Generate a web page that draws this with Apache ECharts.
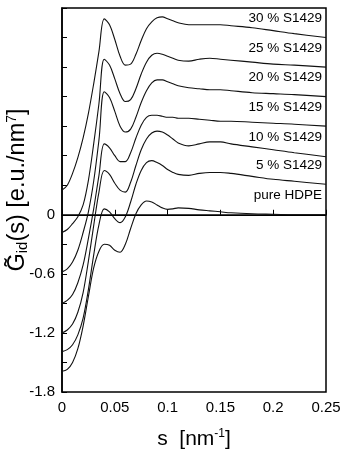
<!DOCTYPE html>
<html>
<head>
<meta charset="utf-8">
<title>G_id(s) curves</title>
<script src="https://cdn.jsdelivr.net/npm/echarts@6/dist/echarts.min.js"></script>
<style>
  html, body { margin: 0; padding: 0; background: #fff; }
  #chart { width: 347px; height: 455px; }
</style>
</head>
<body>
<div id="chart"></div>
<script>
// s grid shared by every curve (nm^-1)
const sValues = [0, 0.005, 0.01, 0.015, 0.02, 0.025, 0.03, 0.035, 0.04, 0.045, 0.05, 0.055,
  0.06, 0.065, 0.07, 0.075, 0.08, 0.085, 0.09, 0.095, 0.1, 0.105, 0.11, 0.12, 0.13, 0.14,
  0.15, 0.16, 0.18, 0.2, 0.22, 0.25];

// curve labels (top to bottom)
const seriesNames = ['30 % S1429', '25 % S1429', '20 % S1429', '15 % S1429', '10 % S1429', '5 % S1429', 'pure HDPE'];

// values (curves already shifted by 0.3 each)
const g30 = [0.25, 0.3, 0.42, 0.58, 0.78, 1.03, 1.33, 1.66, 1.99, 1.93, 1.78, 1.61,
  1.52, 1.53, 1.63, 1.77, 1.89, 1.96, 2.0, 2.01, 1.99, 1.97, 1.95, 1.93, 1.93, 1.93,
  1.93, 1.92, 1.9, 1.87, 1.84, 1.8];
const g25 = [-0.18, -0.15, -0.09, -0.02, 0.1, 0.35, 0.72, 1.13, 1.58, 1.52, 1.38, 1.23,
  1.15, 1.17, 1.28, 1.43, 1.55, 1.62, 1.64, 1.63, 1.61, 1.59, 1.57, 1.56, 1.58, 1.59,
  1.58, 1.57, 1.55, 1.53, 1.52, 1.5];
const g20 = [-0.58, -0.55, -0.48, -0.36, -0.18, 0.03, 0.34, 0.76, 1.25, 1.19, 1.05, 0.9,
  0.84, 0.87, 0.99, 1.14, 1.26, 1.34, 1.37, 1.37, 1.35, 1.33, 1.31, 1.29, 1.28, 1.27,
  1.27, 1.26, 1.24, 1.23, 1.22, 1.2];
const g15 = [-0.9, -0.87, -0.81, -0.69, -0.51, -0.24, 0.06, 0.4, 0.72, 0.68, 0.6, 0.54,
  0.54, 0.63, 0.78, 0.91, 0.99, 1.01, 1.01, 1.0, 0.99, 0.99, 0.98, 0.98, 0.97, 0.96,
  0.95, 0.95, 0.94, 0.93, 0.92, 0.9];
const g10 = [-1.2, -1.17, -1.11, -0.99, -0.79, -0.47, -0.11, 0.23, 0.45, 0.41, 0.32, 0.25,
  0.23, 0.33, 0.5, 0.66, 0.77, 0.83, 0.85, 0.84, 0.81, 0.77, 0.73, 0.7, 0.72, 0.74,
  0.74, 0.72, 0.69, 0.66, 0.63, 0.59];
const g5 = [-1.39, -1.37, -1.32, -1.22, -1.05, -0.76, -0.41, -0.1, 0.06, 0.03, -0.04, -0.08,
  -0.02, 0.13, 0.31, 0.45, 0.53, 0.55, 0.53, 0.5, 0.46, 0.43, 0.41, 0.4, 0.42, 0.43,
  0.43, 0.42, 0.39, 0.36, 0.34, 0.31];
const gHDPE = [-1.59, -1.57, -1.5, -1.36, -1.13, -0.83, -0.54, -0.37, -0.3, -0.31, -0.36, -0.38,
  -0.3, -0.14, 0.01, 0.1, 0.14, 0.13, 0.1, 0.07, 0.055, 0.06, 0.07, 0.065, 0.05, 0.04,
  0.03, 0.02, 0.01, 0.005, 0.0, 0.0];

const curves = [g30, g25, g20, g15, g10, g5, gHDPE];

// y tick values that get a label
const yLabelled = [0, -0.6, -1.2, -1.8];

const FONT = 'Liberation Sans, Arial, sans-serif';

const chart = echarts.init(document.getElementById('chart'), null, { renderer: 'canvas' });

// one line series per curve, name printed above its right end
const series = curves.map((vals, k) => {
  const s = {
    name: seriesNames[k],
    type: 'line',
    data: sValues.map((x, i) => [x, vals[i]]),
    smooth: 0.35,
    showSymbol: false,
    silent: true,
    lineStyle: { color: '#111', width: 1.1 },
    endLabel: {
      show: true,
      formatter: seriesNames[k],
      align: 'right',
      distance: 0,
      offset: [-4, -19],
      color: '#000',
      fontFamily: FONT,
      fontSize: 13.5
    },
    z: 3
  };
  if (k === curves.length - 1) {
    // zero reference line
    s.markLine = {
      silent: true,
      symbol: 'none',
      label: { show: false },
      lineStyle: { color: '#000', width: 1.2, type: 'solid' },
      data: [{ yAxis: 0 }]
    };
  }
  return s;
});

const option = {
  animation: false,
  backgroundColor: '#fff',
  grid: {
    left: 62, right: 21, top: 8, bottom: 63,
    show: true, borderColor: '#000', borderWidth: 1.5, backgroundColor: 'transparent'
  },
  xAxis: {
    type: 'value',
    min: 0, max: 0.25, interval: 0.05,
    name: '{n|s  [nm}{sup|-1}{n|]}',
    nameLocation: 'middle',
    nameGap: 36,
    nameTextStyle: {
      rich: {
        n: { fontFamily: FONT, fontSize: 21, color: '#000' },
        sup: { fontFamily: FONT, fontSize: 12, color: '#000', verticalAlign: 'top', padding: [0, 0, 10, 0] }
      }
    },
    axisLine: { show: true, lineStyle: { color: '#000', width: 1.5 } },
    axisTick: { show: true, inside: true, length: 5, lineStyle: { color: '#000', width: 1 } },
    axisLabel: { color: '#000', fontFamily: FONT, fontSize: 15, margin: 8 },
    splitLine: { show: false }
  },
  yAxis: {
    type: 'value',
    min: -1.8, max: 2.1, interval: 0.3,
    axisLine: { show: true, lineStyle: { color: '#000', width: 1.5 } },
    axisTick: { show: true, inside: true, length: 5, lineStyle: { color: '#000', width: 1 } },
    axisLabel: {
      color: '#000', fontFamily: FONT, fontSize: 15, margin: 7,
      formatter: (v) => {
        const r = Math.round(v * 10) / 10;
        return yLabelled.some((t) => Math.abs(t - r) < 1e-6) ? String(r === 0 ? 0 : r) : '';
      }
    },
    splitLine: { show: false }
  },
  graphic: [
    {
      // y axis title, rotated
      type: 'text',
      x: 18,
      y: 190,
      rotation: Math.PI / 2,
      style: {
        text: '{n|G\u0303}{sub|id}{n|(s) [e.u./nm}{sup|7}{n|]}',
        align: 'center',
        verticalAlign: 'middle',
        rich: {
          n: { fontFamily: FONT, fontSize: 23.5, fill: '#000' },
          sub: { fontFamily: FONT, fontSize: 15, fill: '#000', verticalAlign: 'bottom', padding: [10, 0, 0, 0] },
          sup: { fontFamily: FONT, fontSize: 14, fill: '#000', verticalAlign: 'top', padding: [0, 0, 10, 0] }
        }
      }
    }
  ],
  series: series
};

chart.setOption(option);
</script>
</body>
</html>
